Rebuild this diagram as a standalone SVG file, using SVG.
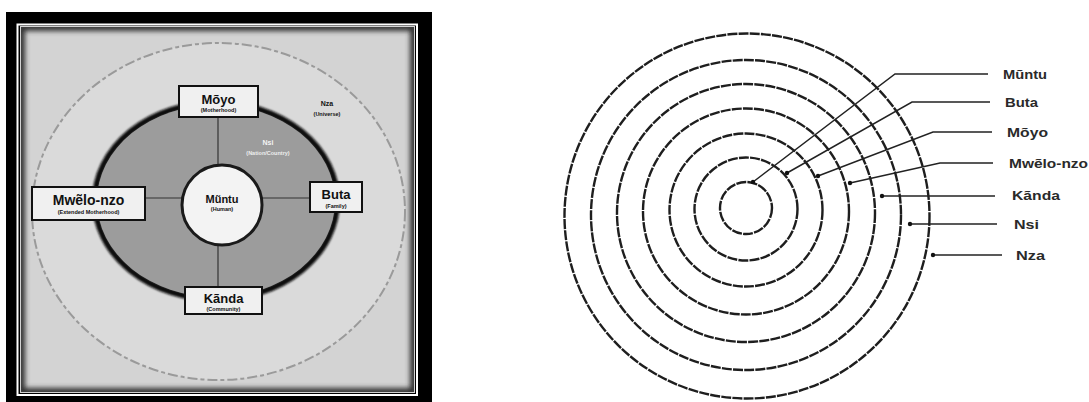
<svg xmlns="http://www.w3.org/2000/svg" width="1089" height="402" viewBox="0 0 1089 402">
<style>
.t{font-family:"Liberation Sans",Arial,sans-serif;fill:#111;text-anchor:middle}
.tt{font-size:13px;font-weight:bold}
.st{font-size:5.5px;font-weight:bold}
.box{fill:#f0f0f0;stroke:#111;stroke-width:2}
.ring{fill:none;stroke:#1e1e1e;stroke-width:2.4;stroke-dasharray:10 1.2}
.lead{fill:none;stroke:#222;stroke-width:1.5}
.dot{fill:#111}
.lbl{font-family:"Liberation Sans",Arial,sans-serif;font-size:12px;fill:#2a2a2a;font-weight:bold}
.cross{stroke:#333;stroke-width:1.2}
</style>
<defs>
<filter id="blur" x="-5%" y="-5%" width="110%" height="110%"><feGaussianBlur stdDeviation="2.5"/></filter>
<filter id="blur1" x="-5%" y="-5%" width="110%" height="110%"><feGaussianBlur stdDeviation="1.2"/></filter>
<clipPath id="inner"><rect x="21" y="27" width="393" height="365"/></clipPath>
</defs>
<rect width="1089" height="402" fill="#fff"/>

<!-- Left panel frame -->
<g id="frame">
<rect x="6" y="12" width="426" height="390" fill="#000"/>
<rect x="17.5" y="24.5" width="399.5" height="370.5" fill="none" stroke="#fff" stroke-width="2"/>
<rect x="20" y="26" width="395" height="367" fill="#d3d3d3"/>
<g clip-path="url(#inner)">
<rect x="21" y="27" width="393" height="365" fill="none" stroke="#333" stroke-width="8" filter="url(#blur)"/>
</g>
</g>

<g id="nza-ring">
<ellipse cx="218.5" cy="211.5" rx="186.5" ry="168.5" fill="#dadada" stroke="#9a9a9a" stroke-width="2" stroke-dasharray="10 3 4 3"/>
<text class="t st" x="327" y="106" style="font-size:7px">Nza</text>
<text class="t st" x="327" y="116">(Universe)</text>
</g>

<g id="nsi-ring">
<ellipse cx="216" cy="201" rx="121" ry="98" fill="none" stroke="#111" stroke-width="6" filter="url(#blur1)"/>
<ellipse cx="216" cy="201" rx="119" ry="96" fill="#9c9c9c"/>
<text class="t st" x="268" y="145" style="font-size:7px;fill:#f4f4f4">Nsi</text>
<text class="t st" x="268" y="155" style="fill:#eee">(Nation/Country)</text>
</g>

<g id="cross-lines">
<line class="cross" x1="218" y1="117" x2="218" y2="287"/>
<line class="cross" x1="145" y1="198" x2="310" y2="198"/>
</g>

<g id="muntu-left">
<circle cx="222" cy="205" r="40" fill="#f3f3f3" stroke="#1a1a1a" stroke-width="3"/>
<text class="t tt" x="222" y="203" style="font-size:11px">Mũntu</text>
<text class="t st" x="222" y="211">(Human)</text>
</g>

<g id="moyo-box">
<rect class="box" x="179" y="86" width="79" height="31"/>
<text class="t tt" x="218.5" y="104">Mõyo</text>
<text class="t st" x="218.5" y="112">(Motherhood)</text>
</g>

<g id="mwelo-box">
<rect class="box" x="32" y="187" width="113" height="33"/>
<text class="t tt" x="88.5" y="205" style="font-size:14px">Mwẽlo-nzo</text>
<text class="t st" x="88.5" y="214">(Extended Motherhood)</text>
</g>

<g id="buta-box">
<rect class="box" x="310" y="182" width="52" height="30"/>
<text class="t tt" x="336" y="199">Buta</text>
<text class="t st" x="336" y="208">(Family)</text>
</g>

<g id="kanda-box">
<rect class="box" x="185" y="287" width="77" height="27"/>
<text class="t tt" x="223.5" y="303">Kãnda</text>
<text class="t st" x="223.5" y="311">(Community)</text>
</g>

<!-- Right panel -->
<g id="rings">
<circle class="ring" cx="746" cy="208" r="26"/>
<circle class="ring" cx="746" cy="209" r="51.5"/>
<circle class="ring" cx="746" cy="210" r="76.5"/>
<circle class="ring" cx="746" cy="211.5" r="103"/>
<circle class="ring" cx="746" cy="213" r="129"/>
<circle class="ring" cx="746" cy="215" r="155"/>
<circle class="ring" cx="747" cy="216" r="182.5"/>
</g>

<g id="connectors">
<polyline class="lead" points="753,182 895,74 988,74"/>
<polyline class="lead" points="787,173 912,102 990,102"/>
<polyline class="lead" points="818,176 933,132 992,132"/>
<polyline class="lead" points="850,183 940,163 993,163"/>
<polyline class="lead" points="882,196 995,196"/>
<polyline class="lead" points="910,224 997,224"/>
<polyline class="lead" points="933,255 1002,255"/>
<circle class="dot" cx="753" cy="182" r="2.2"/>
<circle class="dot" cx="787" cy="173" r="2.2"/>
<circle class="dot" cx="818" cy="176" r="2.2"/>
<circle class="dot" cx="850" cy="183" r="2.2"/>
<circle class="dot" cx="882" cy="196" r="2.2"/>
<circle class="dot" cx="910" cy="224" r="2.2"/>
<circle class="dot" cx="933" cy="255" r="2.2"/>
</g>

<g id="labels">
<text class="lbl" x="1003" y="79" textLength="44" lengthAdjust="spacingAndGlyphs">Mũntu</text>
<text class="lbl" x="1005" y="107" textLength="33" lengthAdjust="spacingAndGlyphs">Buta</text>
<text class="lbl" x="1007" y="137" textLength="41" lengthAdjust="spacingAndGlyphs">Mõyo</text>
<text class="lbl" x="1009" y="168" textLength="79" lengthAdjust="spacingAndGlyphs">Mwẽlo-nzo</text>
<text class="lbl" x="1012" y="200" textLength="48" lengthAdjust="spacingAndGlyphs">Kãnda</text>
<text class="lbl" x="1014" y="229" textLength="25" lengthAdjust="spacingAndGlyphs">Nsi</text>
<text class="lbl" x="1016" y="260" textLength="29" lengthAdjust="spacingAndGlyphs">Nza</text>
</g>
</svg>
